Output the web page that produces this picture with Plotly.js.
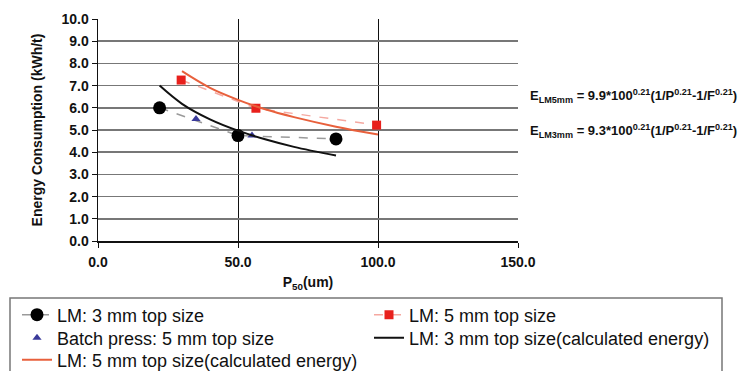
<!DOCTYPE html>
<html><head><meta charset="utf-8">
<script src="https://cdn.plot.ly/plotly-3.0.1.min.js"></script>
<style>html,body{margin:0;padding:0;background:#fff}#chart{width:743px;height:371px}</style>
</head><body><div id="chart"></div>
<script>
// Measured data
const lm3_x = [22, 50, 85];
const lm3_y = [6.0, 4.75, 4.6];
const lm5_x = [29.7, 56.4, 99.5];
const lm5_y = [7.25, 5.98, 5.22];
const batch_x = [35, 55];
const batch_y = [5.5, 4.75];
// Calculated-energy curves
const calc3_x = [22, 30, 40, 50, 60, 70, 85];
const calc3_y = [7.0, 6.18, 5.48, 4.97, 4.57, 4.24, 3.85];
const calc5_x = [30, 40, 50, 60, 70, 85, 100];
const calc5_y = [7.65, 6.9, 6.36, 5.92, 5.58, 5.15, 4.8];
const names = ["LM: 3 mm top size", "LM: 5 mm top size", "Batch press: 5 mm top size",
  "LM: 3 mm top size(calculated energy)", "LM: 5 mm top size(calculated energy)"];
const xticks = [0, 50, 100, 150];
const yticks = [0,1,2,3,4,5,6,7,8,9,10];
const eqLM5 = 'E<sub>LM5mm</sub> = 9.9*100<sup>0.21</sup>(1/P<sup>0.21</sup>-1/F<sup>0.21</sup>)';
const eqLM3 = 'E<sub>LM3mm</sub> = 9.3*100<sup>0.21</sup>(1/P<sup>0.21</sup>-1/F<sup>0.21</sup>)';

const traces = [
  {x: lm3_x, y: lm3_y, name: names[0], mode: 'lines+markers', legend: 'legend',
   line: {color: '#9a9a9a', dash: 'dash', width: 1.5},
   marker: {symbol: 'circle', size: 13, color: '#000'}},
  {x: lm5_x, y: lm5_y, name: names[1], mode: 'lines+markers', legend: 'legend2',
   line: {color: '#f5a8a0', dash: 'dash', width: 1.5},
   marker: {symbol: 'square', size: 9, color: '#e8201c'}},
  {x: batch_x, y: batch_y, name: names[2], mode: 'markers', legend: 'legend3',
   marker: {symbol: 'triangle-up', size: 8, color: '#3a3a9a'}},
  {x: calc3_x, y: calc3_y, name: names[3], mode: 'lines', legend: 'legend4',
   line: {color: '#111', width: 2, shape: 'spline'}},
  {x: calc5_x, y: calc5_y, name: names[4], mode: 'lines', legend: 'legend5',
   line: {color: '#e8603c', width: 2, shape: 'spline'}}
];

const FAM = 'Liberation Sans, Arial, sans-serif';
const boldFont = {family: FAM, size: 14, color: '#111', weight: 'bold'};
const legFont = {family: FAM, size: 18, color: '#111'};
// plot area: 98..518 px horizontally, 19..241 px vertically
const px = p => (p - 98) / 420;
const py = p => (241 - p) / 222;
function leg(xp, yp) {
  return {x: px(xp), xanchor: 'left', y: py(yp), yanchor: 'middle', orientation: 'v',
    bgcolor: 'rgba(0,0,0,0)', borderwidth: 0, font: legFont, itemsizing: 'trace'};
}
const layout = {
  width: 743, height: 371,
  margin: {l: 98, r: 225, t: 19, b: 130, autoexpand: false},
  paper_bgcolor: '#fff', plot_bgcolor: '#fff',
  showlegend: true,
  xaxis: {range: [0, 150], tickvals: xticks, ticktext: xticks.map(v => v.toFixed(1)),
    showgrid: true, gridcolor: '#111', gridwidth: 1, zeroline: false,
    showline: true, linecolor: '#111', linewidth: 1.5, ticks: 'outside', ticklen: 5, tickcolor: '#111',
    tickfont: boldFont, ticklabelstandoff: 3,
    title: {text: 'P<sub>50</sub>(um)', font: boldFont, standoff: 8}},
  yaxis: {range: [0, 10], tickvals: yticks, ticktext: yticks.map(v => v.toFixed(1)),
    showgrid: true, gridcolor: '#777', gridwidth: 1.5, zeroline: false,
    showline: true, linecolor: '#111', linewidth: 1.5, ticks: 'outside', ticklen: 5, tickcolor: '#111',
    tickfont: boldFont,
    title: {text: 'Energy Consumption (kWh/t)', font: boldFont, standoff: 15}},
  legend: leg(17, 315),
  legend2: leg(369, 315),
  legend3: leg(17, 338),
  legend4: leg(369, 338),
  legend5: leg(17, 360),
  shapes: [
    {type: 'rect', xref: 'paper', yref: 'paper', x0: px(10), x1: px(722), y0: py(298), y1: py(385),
     line: {color: '#777', width: 1.5}, fillcolor: 'rgba(0,0,0,0)', layer: 'above'}
  ],
  annotations: [
    {xref: 'paper', yref: 'paper', x: px(528), y: py(96), xanchor: 'left', yanchor: 'middle', showarrow: false,
     text: eqLM5, font: {family: FAM, size: 13, color: '#111', weight: 'bold'}},
    {xref: 'paper', yref: 'paper', x: px(528), y: py(131), xanchor: 'left', yanchor: 'middle', showarrow: false,
     text: eqLM3, font: {family: FAM, size: 13, color: '#111', weight: 'bold'}}
  ]
};
Plotly.newPlot('chart', traces, layout, {displayModeBar: false, staticPlot: true});
</script></body></html>
